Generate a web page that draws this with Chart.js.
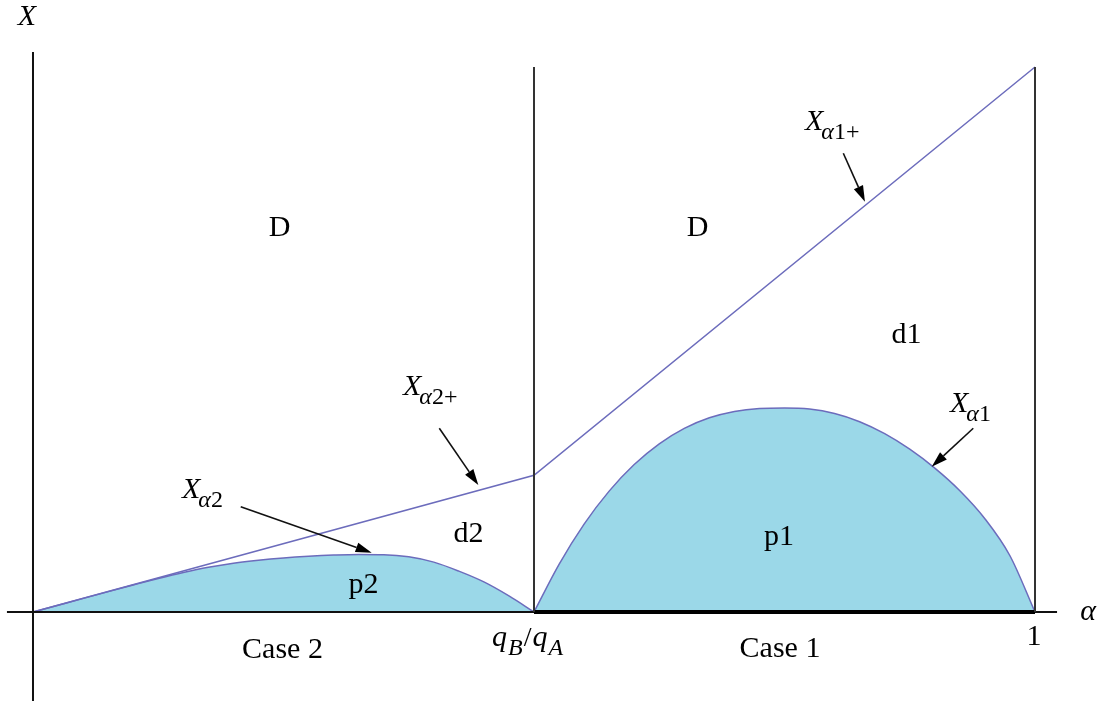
<!DOCTYPE html>
<html>
<head>
<meta charset="utf-8">
<script src="https://cdn.jsdelivr.net/npm/chart.js@4/dist/chart.umd.min.js"></script>
<style>
  html, body { margin: 0; padding: 0; background: #fff; }
  #wrap { width: 1104px; height: 701px; }
</style>
</head>
<body>
<div id="wrap"><canvas id="regionChart" width="1104" height="701"></canvas></div>
<script>
// Region diagram: alpha on the horizontal axis, X on the vertical axis

// q_B/q_A split point
const qRatio = 0.5;

// Upper boundary X_a2+ / X_a1+ (kinked line)
const upperAlpha = [0, 0.5, 1.0];
const upperX = [0, 0.251, 1.0];

// Case 2 curve X_a2 (alpha from 0 to q_B/q_A)
const p2Alpha = [0, 0.025, 0.05, 0.075, 0.1, 0.125, 0.15, 0.175, 0.2, 0.225, 0.25,
  0.275, 0.3, 0.325, 0.35, 0.375, 0.4, 0.425, 0.45, 0.475, 0.5];
const p2X = [0, 0.0125, 0.0250, 0.0374, 0.0496, 0.0615, 0.0725, 0.0820, 0.0895, 0.0950, 0.0992,
  0.1023, 0.1045, 0.1057, 0.1052, 0.1012, 0.0915, 0.0750, 0.0552, 0.0295, 0];

// Case 1 curve X_a1 (alpha from q_B/q_A to 1)
const p1Alpha = [0.5, 0.525, 0.55, 0.575, 0.6, 0.625, 0.65, 0.675, 0.7, 0.725, 0.75,
  0.775, 0.8, 0.825, 0.85, 0.875, 0.9, 0.925, 0.95, 0.975, 1.0];
const p1X = [0, 0.0875, 0.1613, 0.2218, 0.2705, 0.3085, 0.3368, 0.3563, 0.3680, 0.3735, 0.3745,
  0.3725, 0.3642, 0.3492, 0.3272, 0.2987, 0.2640, 0.2225, 0.1712, 0.1032, 0];

// Axis extents
const alphaAxisRange = [-0.026, 1.022];
const xAxisRange = [-0.17, 1.0275];
const dividerTop = 1.0;

// Region and case labels [text, alpha, X]
const regionLabels = [
  ['D', 0.246, 0.7046],
  ['D', 0.6632, 0.7046],
  ['d1', 0.8717, 0.5083],
  ['d2', 0.4346, 0.1431],
  ['p1', 0.7445, 0.1367],
  ['p2', 0.3298, 0.0486],
  ['Case 2', 0.249, -0.0697],
  ['Case 1', 0.7455, -0.0675],
  ['1', 0.999, -0.0459]
];

// Curve names [main, subscript, alpha, X] (left/baseline of the main letter)
const curveLabels = [
  ['X', '\u03b11+', 0.7705, 0.8844],
  ['X', '\u03b11', 0.9152, 0.367],
  ['X', '\u03b12+', 0.3693, 0.3982],
  ['X', '\u03b12', 0.1487, 0.2092]
];

// Arrows [fromAlpha, fromX, toAlpha, toX]
const arrows = [
  [0.8087, 0.8417, 0.8303, 0.7528],
  [0.9384, 0.3371, 0.8969, 0.2666],
  [0.4055, 0.3371, 0.4444, 0.2330],
  [0.2073, 0.1932, 0.3380, 0.1088]
];

const toPts = (xs, ys) => xs.map((x, i) => ({ x: x, y: ys[i] }));

const curveColor = '#6c6cbc';
const fillColor = '#9bd8e8';
const serif = '"Liberation Serif", "DejaVu Serif", serif';

// Draw text, arrows and axis names on top of the chart
const annotatePlugin = {
  id: 'annotate',
  afterDraw(chart) {
    const ctx = chart.ctx;
    const xs = chart.scales.x;
    const ys = chart.scales.y;
    const px = a => xs.getPixelForValue(a);
    const py = v => ys.getPixelForValue(v);

    ctx.save();
    ctx.fillStyle = '#000';

    // plain labels
    ctx.font = '30px ' + serif;
    ctx.textAlign = 'center';
    ctx.textBaseline = 'middle';
    regionLabels.forEach(([t, a, v]) => ctx.fillText(t, px(a), py(v)));

    // curve names with subscripts
    ctx.textAlign = 'left';
    ctx.textBaseline = 'alphabetic';
    curveLabels.forEach(([main, sub, a, v]) => {
      ctx.font = 'italic 30px ' + serif;
      const x0 = px(a), y0 = py(v);
      ctx.fillText(main, x0, y0);
      const w = ctx.measureText(main).width;
      ctx.font = 'italic 24px ' + serif;
      const greek = sub.charAt(0);
      ctx.fillText(greek, x0 + w - 2, y0 + 9);
      const gw = ctx.measureText(greek).width;
      ctx.font = '24px ' + serif;
      ctx.fillText(sub.slice(1), x0 + w - 2 + gw, y0 + 9);
    });

    // q_B / q_A tick label
    let cx = px(qRatio) - 42;
    const by = py(-0.062);
    const parts = [['q', 'italic 30px', 0], ['B', 'italic 24px', 9], ['/', '28px', 0], ['q', 'italic 30px', 0], ['A', 'italic 24px', 9]];
    parts.forEach(([t, f, dy]) => {
      ctx.font = f + ' ' + serif;
      ctx.fillText(t, cx, by + dy);
      cx += ctx.measureText(t).width + 1;
    });

    // axis names
    ctx.font = 'italic 30px ' + serif;
    ctx.textAlign = 'center';
    ctx.textBaseline = 'middle';
    ctx.fillText('X', px(-0.006), py(1.092));
    ctx.fillText('\u03b1', px(1.053), py(0.0));

    // arrows
    ctx.strokeStyle = '#111';
    ctx.lineWidth = 1.6;
    arrows.forEach(([a0, v0, a1, v1]) => {
      const x0 = px(a0), y0 = py(v0), x1 = px(a1), y1 = py(v1);
      const ang = Math.atan2(y1 - y0, x1 - x0);
      const len = 16, half = 5;
      const bx = x1 - len * Math.cos(ang), byy = y1 - len * Math.sin(ang);
      ctx.beginPath();
      ctx.moveTo(x0, y0);
      ctx.lineTo(bx, byy);
      ctx.stroke();
      ctx.beginPath();
      ctx.moveTo(x1, y1);
      ctx.lineTo(bx + half * Math.sin(ang), byy - half * Math.cos(ang));
      ctx.lineTo(bx - half * Math.sin(ang), byy + half * Math.cos(ang));
      ctx.closePath();
      ctx.fill();
    });
    ctx.restore();
  }
};

const lineBase = { showLine: true, pointRadius: 0, fill: false };

new Chart(document.getElementById('regionChart').getContext('2d'), {
  type: 'scatter',
  data: {
    datasets: [
      Object.assign({}, lineBase, {
        label: 'X_a2',
        data: toPts(p2Alpha, p2X),
        borderColor: curveColor, borderWidth: 1.5,
        backgroundColor: fillColor, fill: 'origin',
        cubicInterpolationMode: 'monotone', order: 5
      }),
      Object.assign({}, lineBase, {
        label: 'X_a1',
        data: toPts(p1Alpha, p1X),
        borderColor: curveColor, borderWidth: 1.5,
        backgroundColor: fillColor, fill: 'origin',
        cubicInterpolationMode: 'monotone', order: 5
      }),
      Object.assign({}, lineBase, {
        label: 'upper',
        data: toPts(upperAlpha, upperX),
        borderColor: curveColor, borderWidth: 1.5, order: 4
      }),
      Object.assign({}, lineBase, {
        label: 'alpha axis',
        data: [{ x: alphaAxisRange[0], y: 0 }, { x: alphaAxisRange[1], y: 0 }],
        borderColor: '#111', borderWidth: 2, order: 3
      }),
      Object.assign({}, lineBase, {
        label: 'case 1 base',
        data: [{ x: qRatio, y: 0 }, { x: 1.0, y: 0 }],
        borderColor: '#000', borderWidth: 4, order: 2
      }),
      Object.assign({}, lineBase, {
        label: 'X axis',
        data: [{ x: 0, y: xAxisRange[0] }, { x: 0, y: xAxisRange[1] }],
        borderColor: '#111', borderWidth: 2, order: 1
      }),
      Object.assign({}, lineBase, {
        label: 'split',
        data: [{ x: qRatio, y: 0 }, { x: qRatio, y: dividerTop }],
        borderColor: '#333', borderWidth: 2, order: 1
      }),
      Object.assign({}, lineBase, {
        label: 'right edge',
        data: [{ x: 1.0, y: 0 }, { x: 1.0, y: dividerTop }],
        borderColor: '#333', borderWidth: 2, order: 1
      })
    ]
  },
  options: {
    responsive: false,
    animation: false,
    layout: { padding: 0 },
    plugins: {
      legend: { display: false },
      tooltip: { enabled: false }
    },
    scales: {
      x: { type: 'linear', display: false, min: -0.03293, max: 1.06886 },
      y: { type: 'linear', display: false, min: -0.1633, max: 1.12294 }
    }
  },
  plugins: [annotatePlugin]
});
</script>
</body>
</html>
